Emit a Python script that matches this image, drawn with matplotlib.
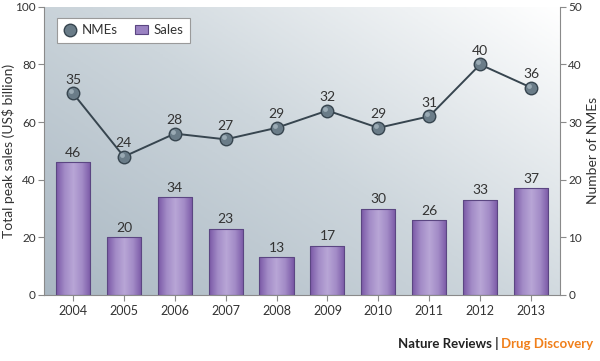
import numpy as np
import matplotlib
matplotlib.use("Agg")
import matplotlib.pyplot as plt
from matplotlib.colors import LinearSegmentedColormap
from matplotlib.lines import Line2D
from matplotlib.patches import Patch

plt.rcParams['font.family'] = ['Lato', 'DejaVu Sans']

# data
years = ['2004', '2005', '2006', '2007', '2008', '2009', '2010', '2011', '2012', '2013']
sales = [46, 20, 34, 23, 13, 17, 30, 26, 33, 37]
nmes = [35, 24, 28, 27, 29, 32, 29, 31, 40, 36]

text_col = '#333333'
spine_col = '#8a8a8a'
tick_fs = 8.5
val_fs = 10
lab_fs = 10

fig = plt.figure(figsize=(6.0, 3.61), dpi=100)
ax = fig.add_axes([0.0733, 0.183, 0.86, 0.798])
ax2 = ax.twinx()

x = np.arange(len(years))

# diagonal background gradient (dark bottom-left, white top-right)
gx, gy = np.meshgrid(np.linspace(0, 1, 200), np.linspace(0, 1, 200))
g = np.clip(0.55 * gx + 0.45 * gy, 0, 1)
bg_cmap = LinearSegmentedColormap.from_list('bg', ['#a9b7c2', '#cdd6dc', '#ffffff'])
ax.imshow(g, cmap=bg_cmap, extent=[0, 1, 0, 1], transform=ax.transAxes,
          origin='lower', aspect='auto', zorder=0)

# bars with a cylinder-like gradient
bar_cmap = LinearSegmentedColormap.from_list(
    'bar', ['#7a58a6', '#a38cc7', '#b8a6d6', '#a38cc7', '#7a58a6'])
bw = 0.67
bars = ax.bar(x, sales, width=bw, facecolor='none', edgecolor='#5b4682',
              linewidth=0.8, zorder=3)
grad = np.linspace(0, 1, 100).reshape(1, -1)
for b in bars:
    im = ax.imshow(grad, cmap=bar_cmap, aspect='auto', zorder=2,
                   extent=[b.get_x(), b.get_x() + b.get_width(), 0, b.get_height()])
    im.set_clip_path(b)

for xi, v in zip(x, sales):
    ax.annotate(str(v), (xi, v), xytext=(0, 2.5), textcoords='offset points',
                ha='center', va='bottom', fontsize=val_fs, color=text_col, zorder=5)

# NMEs line
ax2.plot(x, nmes, color='#37454f', linewidth=1.4, zorder=4)
ax2.plot(x, nmes, linestyle='none', marker='o', markersize=9,
         markerfacecolor='#6a7c88', markeredgecolor='#37454f', markeredgewidth=1.0, zorder=5)
ax2.plot(x - 0.04, np.array(nmes) + 0.35, linestyle='none', marker='o', markersize=3.5,
         markerfacecolor='#9aaab4', markeredgecolor='none', zorder=6)
for xi, v in zip(x, nmes):
    ax2.annotate(str(v), (xi, v), xytext=(0, 5.5), textcoords='offset points',
                 ha='center', va='bottom', fontsize=val_fs, color=text_col, zorder=6)

ax.set_xlim(-0.57, 9.57)
ax.set_ylim(0, 100)
ax2.set_ylim(0, 50)
ax.set_xticks(x)
ax.set_xticklabels(years)
ax.set_yticks(range(0, 101, 20))
ax2.set_yticks(range(0, 51, 10))

for a in (ax, ax2):
    for s in a.spines.values():
        s.set_visible(False)
    a.tick_params(colors=spine_col, labelcolor=text_col, labelsize=tick_fs,
                  length=4, width=0.8, direction='out', pad=2)
ax.tick_params(axis='x', labelsize=9, pad=3)
ax.spines['left'].set_visible(True)
ax.spines['bottom'].set_visible(True)
ax2.spines['right'].set_visible(True)
for s in (ax.spines['left'], ax.spines['bottom'], ax2.spines['right']):
    s.set_color(spine_col)
    s.set_linewidth(0.8)

ax.set_ylabel('Total peak sales (US$ billion)', fontsize=lab_fs, color=text_col)
ax.yaxis.set_label_coords(-0.056, 0.5)
ax2.set_ylabel('Number of NMEs', fontsize=lab_fs, color=text_col)
ax2.yaxis.set_label_coords(1.052, 0.5)

handles = [
    Line2D([], [], linestyle='none', marker='o', markersize=9,
           markerfacecolor='#6a7c88', markeredgecolor='#37454f'),
    Patch(facecolor='#9a82c2', edgecolor='#5b4682', linewidth=0.8),
]
leg = ax2.legend(handles, ['NMEs', 'Sales'], loc='upper left', ncol=2,
                 bbox_to_anchor=(0.012, 0.985), fontsize=9.5, frameon=True,
                 fancybox=False, edgecolor='#9a9a9a', framealpha=1,
                 handlelength=1.0, handletextpad=0.4, columnspacing=1.3,
                 borderpad=0.5, labelcolor=text_col)
leg.get_frame().set_linewidth(0.8)

# footer
t2 = fig.text(0.988, 0.03, 'Drug Discovery', ha='right', va='bottom',
              fontsize=9.5, fontweight='bold', color='#f07f1a')
fig.canvas.draw()
bb = t2.get_window_extent()
x0 = fig.transFigure.inverted().transform((bb.x0, bb.y0))[0]
fig.text(x0 - 0.004, 0.03, 'Nature Reviews |', ha='right', va='bottom',
         fontsize=9.5, fontweight='bold', color='#222222')

fig.savefig('out.png', dpi=100)
